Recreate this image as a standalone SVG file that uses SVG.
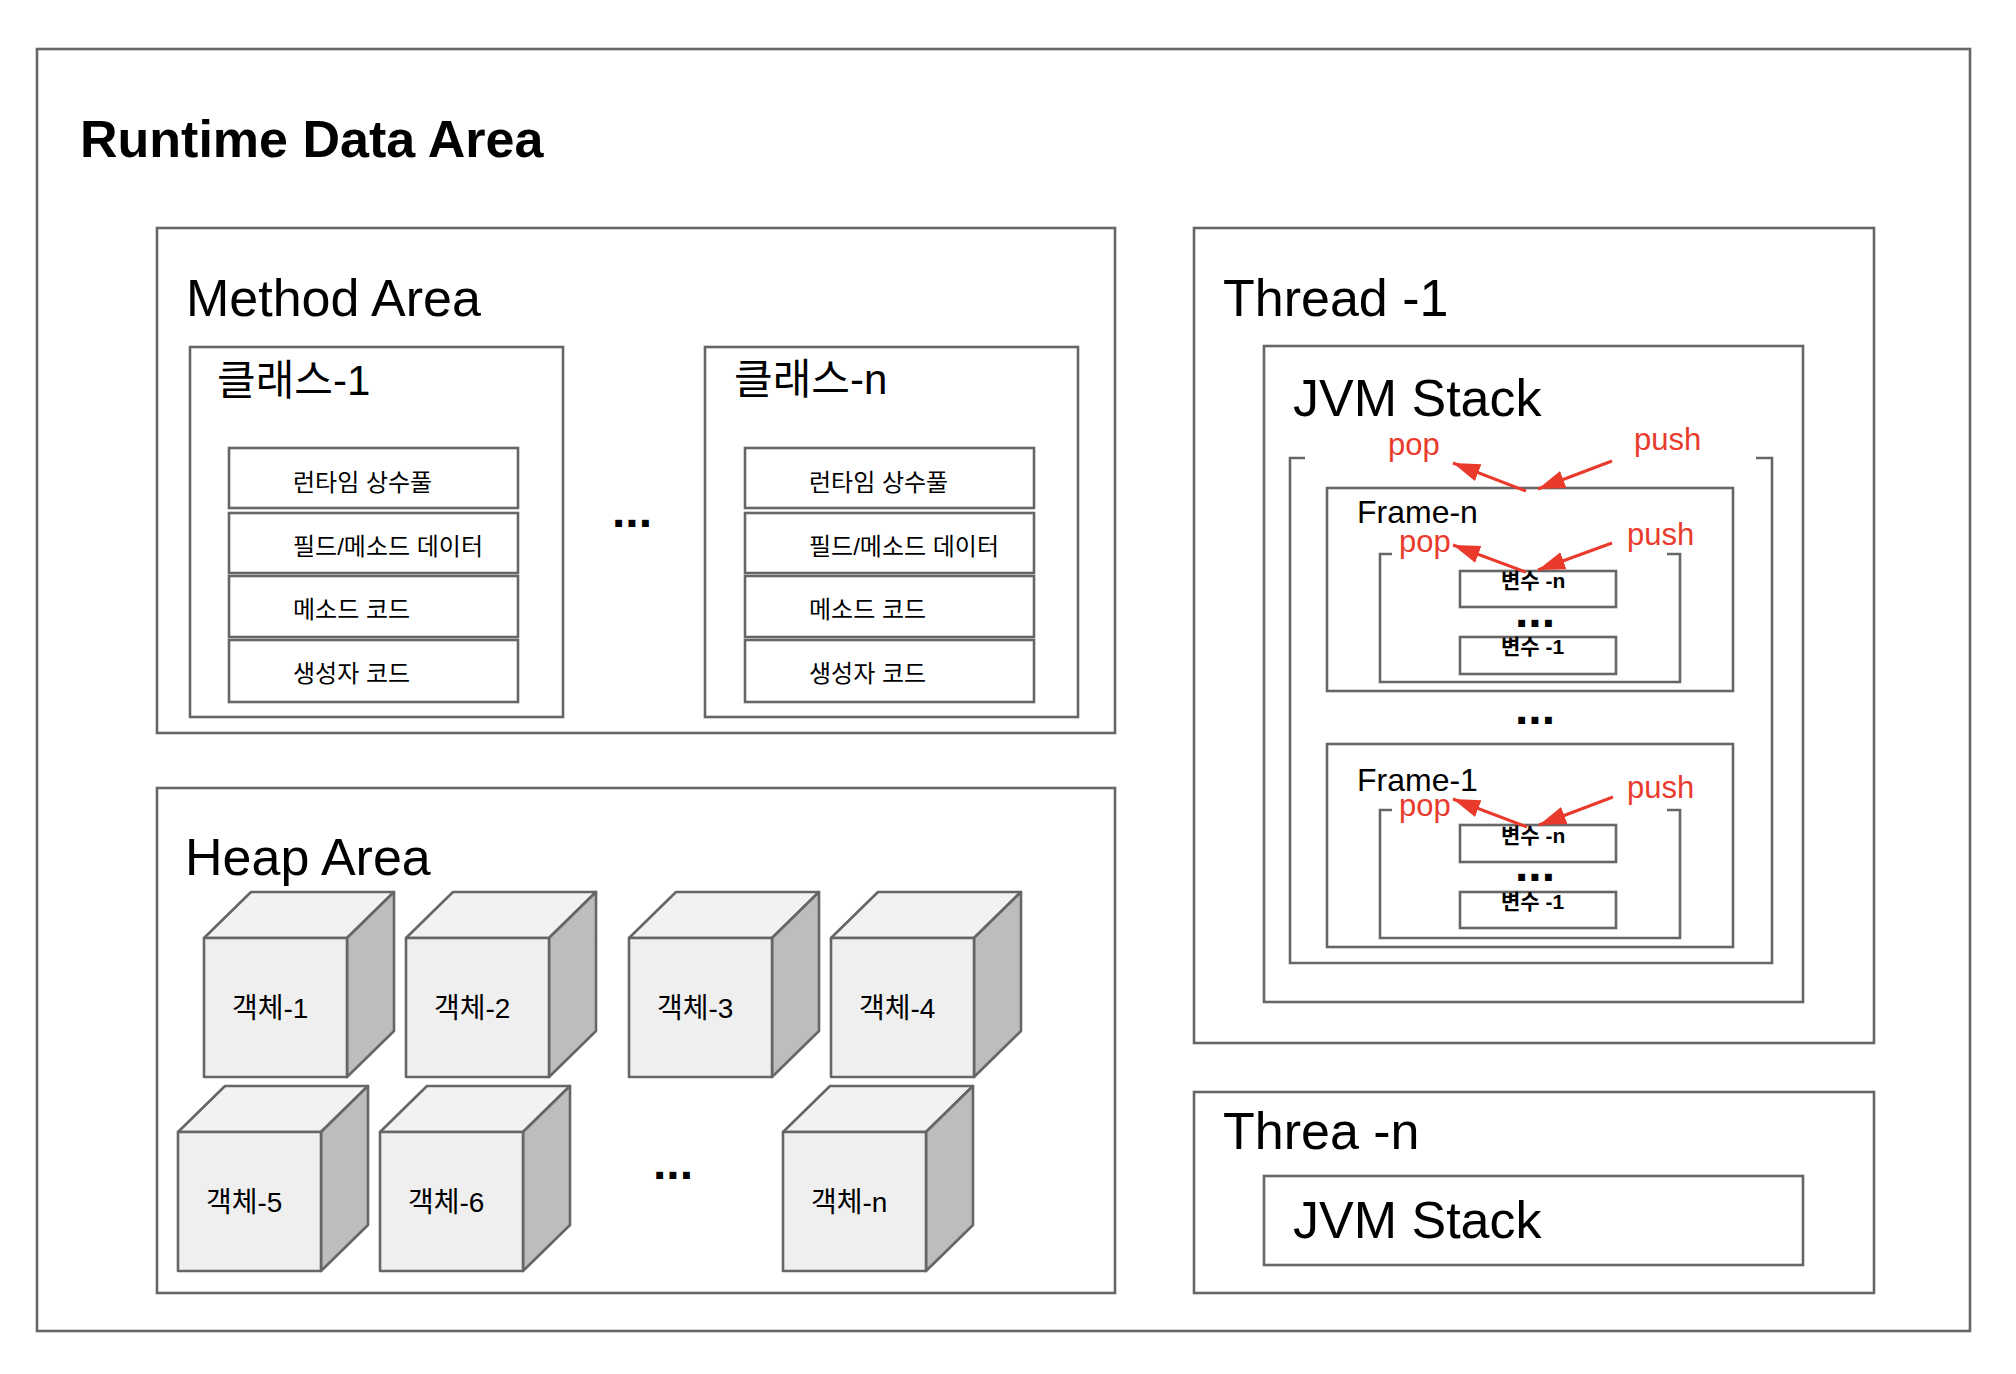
<svg xmlns="http://www.w3.org/2000/svg" width="2016" height="1374" viewBox="0 0 2016 1374">
<defs>
<style>
.box{fill:#fff;stroke:#666;stroke-width:2.6}
.br{fill:none;stroke:#666;stroke-width:2.6}
.t{font-family:"Liberation Sans","Noto Sans CJK KR",sans-serif;fill:#000}
.h1{font-size:52px;font-weight:bold}
.h2{font-size:52px}
.cls{font-size:42px}
.row{font-size:24px}
.obj{font-size:28px}
.fr{font-size:32px}
.var{font-size:21px;font-weight:bold}
.dots{font-size:48px;font-weight:bold}
.red{font-family:"Liberation Sans",sans-serif;font-size:31px;fill:#ea3a2c}
.arr{stroke:#ea3a2c;stroke-width:3;fill:none;marker-end:url(#ah)}
.front{fill:#efefef;stroke:#666;stroke-width:2.6;stroke-linejoin:round}
.top{fill:#f2f2f2;stroke:#666;stroke-width:2.6;stroke-linejoin:round}
.side{fill:#bdbdbd;stroke:#666;stroke-width:2.6;stroke-linejoin:round}
</style>
<marker id="ah" markerUnits="userSpaceOnUse" markerWidth="28" markerHeight="19" refX="27" refY="9" orient="auto">
<path d="M0,0 L27,9 L0,18 Z" fill="#ea3a2c"/>
</marker>
<g id="cube">
<polygon class="top" points="0,0 47,-46 190,-46 143,0"/>
<polygon class="side" points="143,0 190,-46 190,93 143,139"/>
<rect class="front" x="0" y="0" width="143" height="139"/>
</g>
</defs>
<rect width="2016" height="1374" fill="#fff"/>

<g id="runtime-data-area">
<rect class="box" x="37" y="49" width="1933" height="1282"/>
<text class="t h1" x="80" y="157">Runtime Data Area</text>
</g>

<g id="method-area">
<rect class="box" x="157" y="228" width="958" height="505"/>
<text class="t h2" x="186" y="316">Method Area</text>
<text class="t dots" x="612" y="527">...</text>
</g>

<g id="class-1">
<rect class="box" x="190" y="347" width="373" height="370"/>
<text class="t cls" x="217" y="395">클래스-1</text>
<rect class="box" x="229" y="448" width="289" height="60"/>
<text class="t row" x="293" y="491">런타임 상수풀</text>
<rect class="box" x="229" y="513" width="289" height="60"/>
<text class="t row" x="293" y="555">필드/메소드 데이터</text>
<rect class="box" x="229" y="576" width="289" height="61"/>
<text class="t row" x="293" y="618">메소드 코드</text>
<rect class="box" x="229" y="640" width="289" height="62"/>
<text class="t row" x="293" y="682">생성자 코드</text>
</g>

<g id="class-n">
<rect class="box" x="705" y="347" width="373" height="370"/>
<text class="t cls" x="734" y="394">클래스-n</text>
<rect class="box" x="745" y="448" width="289" height="60"/>
<text class="t row" x="809" y="491">런타임 상수풀</text>
<rect class="box" x="745" y="513" width="289" height="60"/>
<text class="t row" x="809" y="555">필드/메소드 데이터</text>
<rect class="box" x="745" y="576" width="289" height="61"/>
<text class="t row" x="809" y="618">메소드 코드</text>
<rect class="box" x="745" y="640" width="289" height="62"/>
<text class="t row" x="809" y="682">생성자 코드</text>
</g>

<g id="heap-area">
<rect class="box" x="157" y="788" width="958" height="505"/>
<text class="t h2" x="185" y="875">Heap Area</text>
<text class="t dots" x="653" y="1179">...</text>
</g>

<g id="obj-1"><use href="#cube" x="204" y="938"/><text class="t obj" x="232" y="1018">객체-1</text></g>
<g id="obj-2"><use href="#cube" x="406" y="938"/><text class="t obj" x="434" y="1018">객체-2</text></g>
<g id="obj-3"><use href="#cube" x="629" y="938"/><text class="t obj" x="657" y="1018">객체-3</text></g>
<g id="obj-4"><use href="#cube" x="831" y="938"/><text class="t obj" x="859" y="1018">객체-4</text></g>
<g id="obj-5"><use href="#cube" x="178" y="1132"/><text class="t obj" x="206" y="1212">객체-5</text></g>
<g id="obj-6"><use href="#cube" x="380" y="1132"/><text class="t obj" x="408" y="1212">객체-6</text></g>
<g id="obj-n"><use href="#cube" x="783" y="1132"/><text class="t obj" x="811" y="1212">객체-n</text></g>

<g id="thread-1">
<rect class="box" x="1194" y="228" width="680" height="815"/>
<text class="t h2" x="1223" y="316">Thread -1</text>
</g>

<g id="jvm-stack-1">
<rect class="box" x="1264" y="346" width="539" height="656"/>
<text class="t h2" x="1293" y="416">JVM Stack</text>
<path class="br" d="M1305,458 H1290 V963 H1772 V458 H1756"/>
<text class="red" x="1388" y="455">pop</text>
<text class="red" x="1634" y="450">push</text>
<text class="t dots" x="1515" y="724">...</text>
</g>

<g id="frame-n">
<rect class="box" x="1327" y="488" width="406" height="203"/>
<text class="t fr" x="1357" y="523">Frame-n</text>
<path class="br" d="M1392,554 H1380 V682 H1680 V554 H1667"/>
<rect class="box" x="1460" y="571" width="156" height="36"/>
<text class="t var" x="1501" y="588">변수 -n</text>
<text class="t dots" x="1515" y="627">...</text>
<rect class="box" x="1460" y="637" width="156" height="37"/>
<text class="t var" x="1501" y="654">변수 -1</text>
<text class="red" x="1399" y="552">pop</text>
<text class="red" x="1627" y="545">push</text>
</g>

<g id="frame-1">
<rect class="box" x="1327" y="744" width="406" height="203"/>
<text class="t fr" x="1357" y="791">Frame-1</text>
<path class="br" d="M1392,810 H1380 V938 H1680 V810 H1667"/>
<rect class="box" x="1460" y="825" width="156" height="37"/>
<text class="t var" x="1501" y="843">변수 -n</text>
<text class="t dots" x="1515" y="881">...</text>
<rect class="box" x="1460" y="892" width="156" height="36"/>
<text class="t var" x="1501" y="909">변수 -1</text>
<text class="red" x="1399" y="816">pop</text>
<text class="red" x="1627" y="798">push</text>
</g>

<g id="thread-n">
<rect class="box" x="1194" y="1092" width="680" height="201"/>
<text class="t h2" x="1223" y="1149">Threa -n</text>
</g>

<g id="jvm-stack-n">
<rect class="box" x="1264" y="1176" width="539" height="89"/>
<text class="t h2" x="1293" y="1238">JVM Stack</text>
</g>

<g id="connectors">
<line class="arr" x1="1526" y1="491" x2="1453" y2="463"/>
<line class="arr" x1="1612" y1="461" x2="1538" y2="489"/>
<line class="arr" x1="1526" y1="572" x2="1453" y2="545"/>
<line class="arr" x1="1612" y1="543" x2="1538" y2="570"/>
<line class="arr" x1="1527" y1="827" x2="1453" y2="799"/>
<line class="arr" x1="1613" y1="797" x2="1539" y2="825"/>
</g>
</svg>
